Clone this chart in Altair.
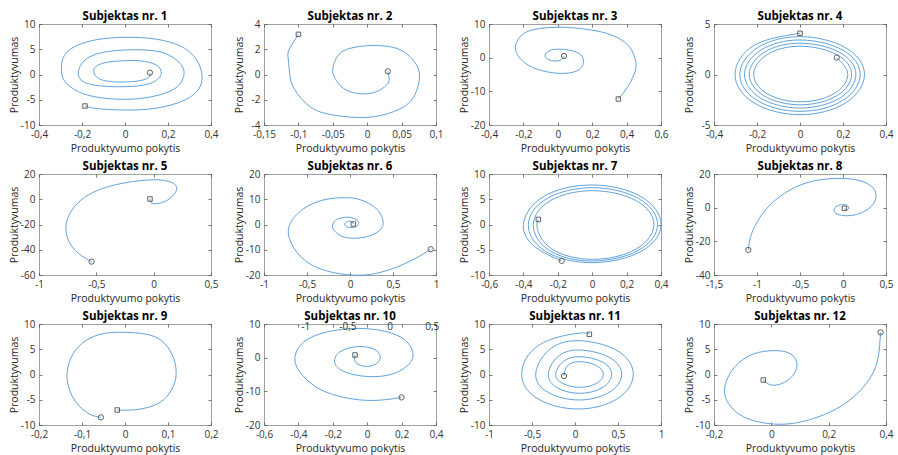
import altair as alt
import pandas as pd

TITLES = ["Subjektas nr. %d" % i for i in range(1, 13)]
X_TITLE = "Produktyvumo pokytis"
Y_TITLE = "Produktyvumas"

# trajectories (x = productivity change, y = productivity); first point = square, last = circle
P1 = [(-0.186,-6.24),(-0.124,-6.77),(0.0,-7.03),(0.140,-6.70),(0.279,-5.05),(0.349,-2.41),(0.357,0.23),
      (0.333,2.87),(0.264,5.51),(0.140,7.03),(0.0,7.36),(-0.140,6.83),(-0.248,5.18),(-0.291,2.87),
      (-0.295,0.56),(-0.279,-1.42),(-0.217,-3.40),(-0.124,-4.52),(0.0,-4.92),(0.124,-4.39),(0.233,-2.74),
      (0.274,-0.10),(0.256,2.21),(0.186,4.19),(0.093,4.85),(0.0,4.85),(-0.109,4.32),(-0.186,2.87),
      (-0.217,0.56),(-0.194,-1.42),(-0.109,-2.28),(0.0,-2.41),(0.109,-1.88),(0.163,-0.43),(0.166,0.89),
      (0.140,2.01),(0.078,2.67),(0.0,2.74),(-0.093,2.34),(-0.140,1.35),(-0.144,0.36),(-0.124,-0.76),
      (-0.062,-1.42),(0.031,-1.42),(0.093,-0.96),(0.116,-0.30),(0.116,0.36)]
P2 = [(-0.100,3.18),(-0.1137,1.94),(-0.1146,1.15),(-0.1122,-0.17),(-0.105,-1.23),(-0.0831,-2.55),
      (-0.0492,-3.21),(-0.0008,-3.40),(0.038,-2.95),(0.0646,-2.02),(0.0758,-0.44),(0.0729,0.62),
      (0.0622,1.41),(0.0428,2.07),(0.0186,2.28),(-0.0008,2.28),(-0.025,2.07),(-0.042,1.54),(-0.050,0.49),
      (-0.0468,-0.30),(-0.0347,-1.09),(-0.0153,-1.49),(-0.0008,-1.52),(0.0138,-1.36),(0.0283,-0.83),
      (0.032,-0.30),(0.030,0.25)]
P3 = [(0.352,-12.28),(0.410,-8.42),(0.449,-4.16),(0.453,-1.19),(0.429,2.28),(0.371,5.25),(0.255,7.62),
      (0.100,8.81),(-0.016,9.01),(-0.133,8.42),(-0.210,6.73),(-0.245,3.76),(-0.239,1.29),(-0.200,-1.19),
      (-0.123,-3.37),(0.003,-4.65),(0.110,-3.96),(0.148,-1.68),(0.135,0.79),(0.071,2.18),(-0.016,2.48),
      (-0.065,1.49),(-0.071,0.10),(-0.036,-0.89),(0.013,-0.79),(0.036,0.50)]
P4 = [(0.0,4.08),(-0.214,2.88),(-0.302,0.0),(-0.214,-2.81),(0.0,-3.98),(0.212,-2.81),(0.300,0.0),
      (0.212,2.65),(0.0,3.75),(-0.198,2.65),(-0.280,0.0),(-0.198,-2.58),(0.0,-3.65),(0.198,-2.58),
      (0.280,0.0),(0.198,2.42),(0.0,3.42),(-0.182,2.42),(-0.258,0.0),(-0.182,-2.35),(0.0,-3.32),
      (0.184,-2.35),(0.260,0.0),(0.184,2.19),(0.0,3.10),(-0.167,2.19),(-0.236,0.0),(-0.167,-2.12),
      (0.0,-3.00),(0.170,-2.12),(0.240,0.0),(0.170,1.98),(0.0,2.80),(-0.152,1.98),(-0.215,0.0),
      (-0.152,-1.91),(0.0,-2.70),(0.157,-1.91),(0.222,0.0),(0.171,1.67)]
P5 = [(-0.032,0.2),(-0.023,-2.7),(0.026,-3.5),(0.113,-1.1),(0.180,4.1),(0.201,8.7),(0.172,12.6),
      (0.084,15.0),(-0.032,15.3),(-0.192,13.9),(-0.395,10.0),(-0.570,3.4),(-0.686,-5.3),(-0.750,-15.1),
      (-0.765,-24.3),(-0.738,-33.6),(-0.657,-42.8),(-0.541,-49.4)]
P6 = [(0.039,0.2),(0.01,1.3),(-0.04,1.0),(-0.06,0.0),(-0.02,-1.1),(0.06,-1.0),(0.10,0.3),(0.07,2.0),
      (-0.04,2.9),(-0.17,1.6),(-0.20,-1.5),(-0.12,-4.2),(0.0,-5.4),(0.20,-4.8),(0.36,-1.8),(0.38,2.0),
      (0.30,6.5),(0.12,9.8),(-0.05,10.6),(-0.30,9.8),(-0.55,6.0),(-0.70,0.0),(-0.70,-6.0),(-0.58,-12.5),
      (-0.35,-17.5),(0.0,-20.0),(0.35,-19.0),(0.70,-14.5),(0.938,-9.8)]
P7 = [(-0.313,1.0),(-0.318,-1.0),(-0.233,-4.88),(0.0,-6.90),(0.254,-4.88),(0.359,0.0),(0.254,4.74),
      (0.0,6.70),(-0.242,4.74),(-0.342,0.0),(-0.250,-5.11),(0.0,-7.23),(0.269,-5.11),(0.380,0.0),
      (0.269,5.15),(0.0,7.29),(-0.262,5.15),(-0.371,0.0),(-0.270,-5.35),(0.0,-7.56),(0.283,-5.35),
      (0.400,0.0),(0.283,5.53),(0.0,7.82),(-0.283,5.53),(-0.400,0.0),(-0.330,-4.5),(-0.177,-7.2)]
P8 = [(0.016,-0.4),(0.050,-1.4),(0.066,0.4),(0.012,1.8),(-0.066,1.0),(-0.105,-1.4),(-0.066,-3.8),
      (0.043,-4.8),(0.198,-3.4),(0.333,1.0),(0.384,6.5),(0.345,12.1),(0.198,16.0),(-0.035,17.4),
      (-0.345,15.8),(-0.616,10.5),(-0.849,1.6),(-0.996,-8.3),(-1.074,-17.2),(-1.101,-25.1)]
P9 = [(-0.018,-7.03),(0.016,-7.03),(0.054,-6.50),(0.089,-5.05),(0.112,-2.41),(0.119,0.56),(0.110,3.86),
      (0.085,6.70),(0.047,8.02),(0.0,8.35),(-0.047,8.15),(-0.089,6.83),(-0.120,4.19),(-0.134,0.89),
      (-0.133,-1.75),(-0.122,-4.39),(-0.101,-6.70),(-0.078,-8.02),(-0.056,-8.48)]
P10 = [(-0.071,0.8),(-0.065,-1.5),(0.0,-2.6),(0.06,-1.5),(0.075,0.5),(0.04,2.5),(-0.05,3.3),(-0.15,2.0),
       (-0.19,-1.0),(-0.14,-4.0),(0.0,-5.6),(0.15,-4.8),(0.25,-1.5),(0.26,2.5),(0.18,6.5),(0.0,8.6),
       (-0.2,8.0),(-0.36,5.0),(-0.42,0.0),(-0.38,-5.0),(-0.25,-10.0),(-0.05,-12.5),(0.10,-12.5),(0.200,-11.8)]
P11 = [(0.167,7.95),(0.03,8.15),(-0.42,5.8),(-0.62,0.0),(-0.43,-4.83),(0.03,-6.83),(0.49,-4.83),(0.678,0.0),
       (0.49,4.74),(0.03,6.70),(-0.31,4.74),(-0.457,0.0),(-0.31,-3.57),(0.04,-5.05),(0.395,-3.57),(0.543,0.0),
       (0.395,3.43),(0.04,4.85),(-0.205,3.43),(-0.31,0.0),(-0.205,-2.64),(0.05,-3.73),(0.315,-2.64),
       (0.426,0.0),(0.315,2.50),(0.05,3.53),(-0.14,2.50),(-0.225,0.0),(-0.14,-1.80),(0.05,-2.54),
       (0.245,-1.80),(0.329,0.0),(0.245,1.80),(0.05,2.54),(-0.09,1.7),(-0.128,-0.3)]
P12 = [(-0.028,-1.09),(-0.010,-1.88),(0.019,-2.08),(0.059,-1.09),(0.086,0.89),(0.086,2.87),(0.059,4.32),
       (0.007,4.72),(-0.063,4.06),(-0.127,1.55),(-0.162,-2.41),(-0.150,-5.71),(-0.098,-8.35),(-0.016,-9.67),
       (0.077,-9.67),(0.181,-8.02),(0.274,-5.05),(0.344,-0.76),(0.373,3.53),(0.381,8.35)]
PATHS = [P1, P2, P3, P4, P5, P6, P7, P8, P9, P10, P11, P12]

XDOM = [[-0.4,0.4],[-0.15,0.1],[-0.4,0.6],[-0.4,0.4],[-1,0.5],[-1,1],
        [-0.6,0.4],[-1.5,0.5],[-0.2,0.2],[-0.6,0.4],[-1,1],[-0.2,0.4]]
YDOM = [[-10,10],[-4,4],[-20,10],[-5,5],[-60,20],[-20,20],
        [-10,10],[-40,20],[-10,10],[-20,10],[-10,10],[-10,10]]
XTICKS = [[-0.4,-0.2,0,0.2,0.4],[-0.15,-0.1,-0.05,0,0.05,0.1],[-0.4,-0.2,0,0.2,0.4,0.6],
          [-0.4,-0.2,0,0.2,0.4],[-1,-0.5,0,0.5],[-1,-0.5,0,0.5,1],
          [-0.6,-0.4,-0.2,0,0.2,0.4],[-1.5,-1,-0.5,0,0.5],[-0.2,-0.1,0,0.1,0.2],
          [-0.6,-0.4,-0.2,0,0.2,0.4],[-1,-0.5,0,0.5,1],[-0.2,0,0.2,0.4]]
YTICKS = [[-10,-5,0,5,10],[-4,-2,0,2,4],[-20,-10,0,10],[-5,0,5],[-60,-40,-20,0,20],[-20,-10,0,10,20],
          [-10,-5,0,5,10],[-40,-20,0,20],[-10,-5,0,5,10],[-20,-10,0,10],[-10,-5,0,5,10],[-10,-5,0,5,10]]
# stray axis labels overprinted at the top of panel 10
STRAY10 = [-1, -0.5, 0, 0.5]
STRAY10_DOM = [-1.494, 0.544]

FONT = "Open Sans"
LINE = "#4f97d6"
MARK = "#606060"
LABEL_EXPR = "replace(toString(datum.value), '.', ',')"
W, H = 172, 101


def tick_axis(orient, values):
    return alt.Axis(orient=orient, values=values, labels=False, ticks=True, tickSize=3, offset=-3,
                    domain=False, grid=False, title=None, tickColor="#555555", tickWidth=0.8)


def panel(i):
    pts = PATHS[i]
    df = pd.DataFrame({"x": [p[0] for p in pts], "y": [p[1] for p in pts], "k": list(range(len(pts)))})
    n = len(pts)
    xs = alt.Scale(domain=XDOM[i], nice=False, zero=False)
    ys = alt.Scale(domain=YDOM[i], nice=False, zero=False)
    base = alt.Chart(df)
    line = base.mark_line(color=LINE, strokeWidth=0.9, interpolate="natural").encode(
        x=alt.X("x:Q", scale=xs, title=X_TITLE,
                axis=alt.Axis(values=XTICKS[i], labelExpr=LABEL_EXPR, ticks=False, labelPadding=4,
                              titlePadding=4, labelFlush=False, labelOverlap=False)),
        y=alt.Y("y:Q", scale=ys, title=Y_TITLE,
                axis=alt.Axis(values=YTICKS[i], labelExpr=LABEL_EXPR, ticks=False, labelPadding=4,
                              minExtent=16, maxExtent=16, titlePadding=4, labelOverlap=False)),
        order="k:Q")
    sq = base.transform_filter(alt.datum.k == 0).mark_point(
        shape="square", size=20, filled=False, color=MARK, strokeWidth=1, opacity=1).encode(
        x=alt.X("x:Q", scale=xs, axis=tick_axis("bottom", XTICKS[i])),
        y=alt.Y("y:Q", scale=ys, axis=tick_axis("left", YTICKS[i])))
    ci = base.transform_filter(alt.datum.k == n - 1).mark_point(
        shape="circle", size=28, filled=False, color=MARK, strokeWidth=1, opacity=1).encode(
        x=alt.X("x:Q", scale=xs, axis=tick_axis("top", XTICKS[i])),
        y=alt.Y("y:Q", scale=ys, axis=tick_axis("right", YTICKS[i])))
    layers = [line, sq, ci]
    if i == 9:
        sdf = pd.DataFrame({"v": STRAY10})
        stray = alt.Chart(sdf).transform_calculate(
            lab="replace(toString(datum.v), '.', ',')").mark_text(
            font=FONT, fontSize=10, color="#333333", baseline="middle").encode(
            x=alt.X("v:Q", scale=alt.Scale(domain=STRAY10_DOM, nice=False, zero=False), axis=None),
            y=alt.value(3), text="lab:N")
        layers.append(stray)
        ch = alt.layer(*layers).resolve_axis(x="independent", y="independent").resolve_scale(x="independent")
    else:
        ch = alt.layer(*layers).resolve_axis(x="independent", y="independent")
    return ch.properties(width=W, height=H, title=TITLES[i])


panels = [panel(i) for i in range(12)]
chart = alt.concat(*panels, columns=4, spacing={"row": 49, "column": 53}).properties(
    bounds="flush", background="white", padding={"left": 8, "top": 10, "right": 2, "bottom": 2}
).configure_view(stroke="#a0a0a0", strokeWidth=1).configure_axis(
    labelFont=FONT, labelFontSize=10, labelColor="#333333", titleFont=FONT, titleFontSize=10.5,
    titleFontWeight="normal", titleColor="#262626", grid=False, domain=False
).configure_title(font=FONT, fontSize=11.5, fontWeight="bold", color="#000000", offset=-3, frame="group",
                  anchor="middle")

chart.save("out.html", embed_options={"renderer": "svg", "actions": False})
